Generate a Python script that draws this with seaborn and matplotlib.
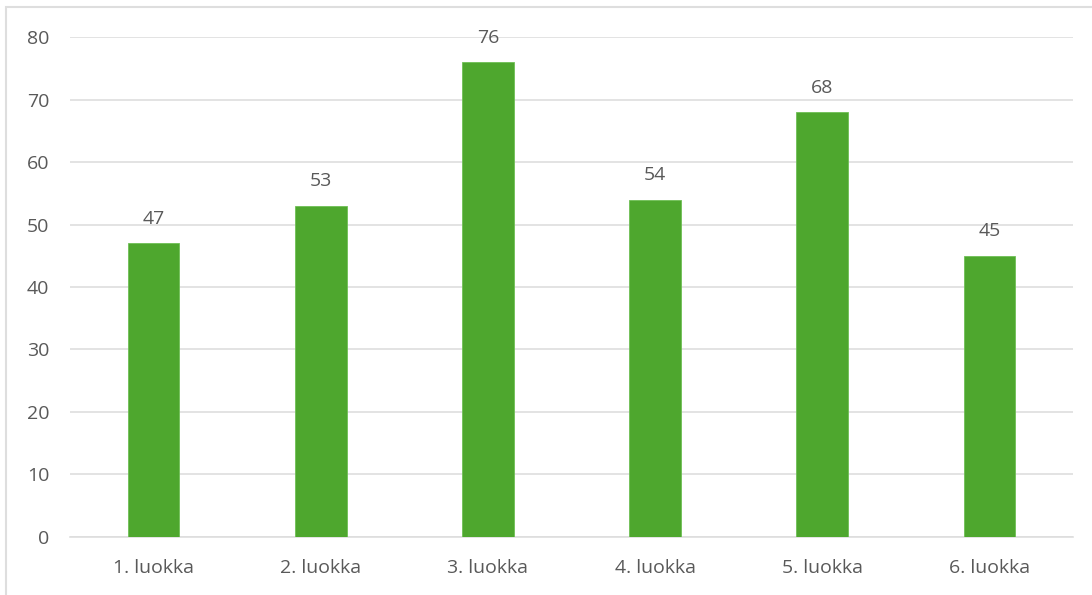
import pandas as pd
import seaborn as sns
import matplotlib.pyplot as plt
from matplotlib.patches import Rectangle

# Data
categories = ["1. luokka", "2. luokka", "3. luokka", "4. luokka", "5. luokka", "6. luokka"]
values = [47, 53, 76, 54, 68, 45]
y_ticks = [0, 10, 20, 30, 40, 50, 60, 70, 80]

df = pd.DataFrame({"luokka": categories, "arvo": values})

sns.set_theme(style="white")
plt.rcParams['font.family'] = ['Open Sans', 'DejaVu Sans']

text_color = "#595959"
grid_color = "#dedede"
bar_color = "#4ea72e"

fig = plt.figure(figsize=(10.92, 5.95), dpi=100)
ax = fig.add_axes([0.0641, 0.0975, 0.9185, 0.8403])

sns.barplot(data=df, x="luokka", y="arvo", color=bar_color, width=0.31,
            saturation=1, ax=ax, zorder=3, edgecolor="#6fbf55", linewidth=0.6)

ax.set_ylim(0, 80)
ax.set_xlim(-0.5, 5.5)
ax.set_yticks(y_ticks)
ax.yaxis.grid(True, color=grid_color, linewidth=1.2, zorder=0)
ax.set_axisbelow(True)
for side in ["top", "right", "left"]:
    ax.spines[side].set_visible(False)
ax.spines["bottom"].set_color(grid_color)
ax.spines["bottom"].set_linewidth(1.2)
ax.tick_params(axis="both", length=0, labelsize=14, colors=text_color)
ax.tick_params(axis="y", pad=15)
ax.tick_params(axis="x", pad=16)
ax.set_xlabel("")
ax.set_ylabel("")

for container in ax.containers:
    ax.bar_label(container, labels=[str(v) for v in values], padding=11,
                 fontsize=14, color=text_color)

# outer chart frame (left and top edges visible)
fig.patches.append(Rectangle((6 / 1092, -0.1), 1.2, (595 - 7) / 595 + 0.1,
                             transform=fig.transFigure, fill=False,
                             edgecolor=grid_color, linewidth=1.5))

fig.savefig("out.png", dpi=100)
